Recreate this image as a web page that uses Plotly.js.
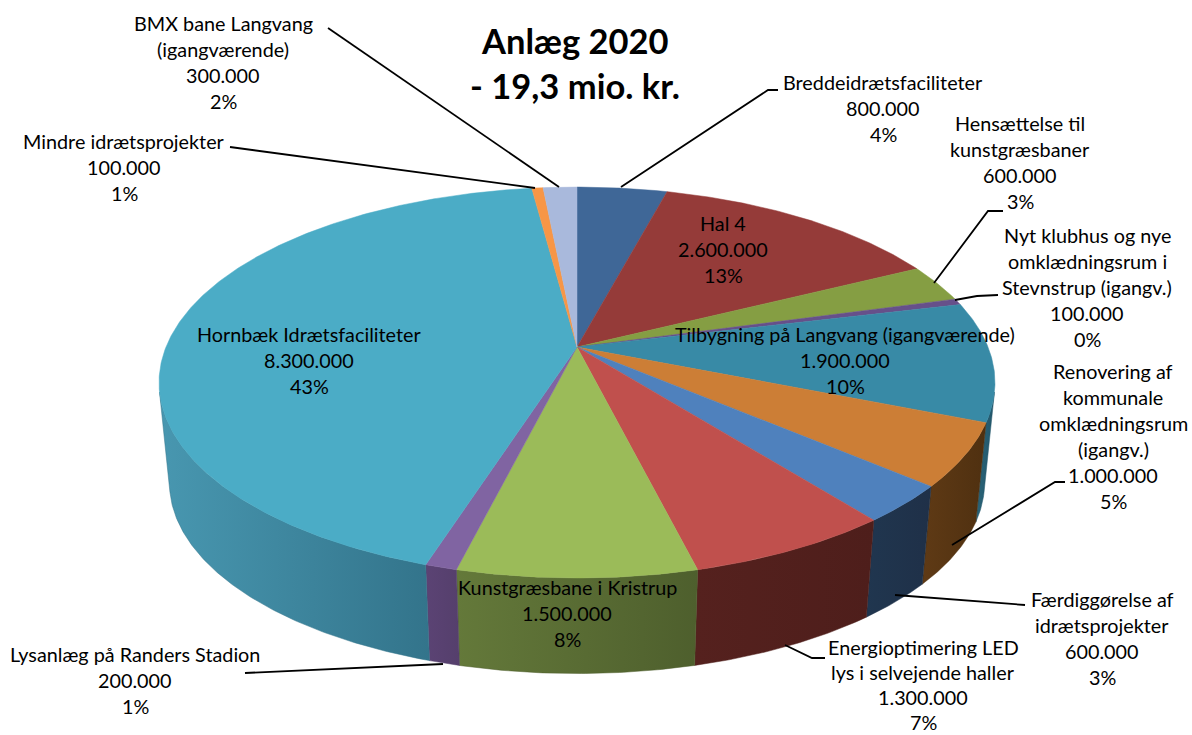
<!DOCTYPE html>
<html><head><meta charset="utf-8">
<script src="https://cdn.plot.ly/plotly-3.0.1.min.js"></script>
<style>html,body{margin:0;padding:0;background:#fff}</style></head>
<body><div id="chart" style="width:1192px;height:735px"></div>
<script>
// ---- data ----
const sliceValues = [800000,2600000,600000,100000,1900000,1000000,600000,1300000,1500000,200000,8300000,100000,300000];
const slicePercents = ['4%','13%','3%','0%','10%','5%','3%','7%','8%','1%','43%','1%','2%'];
const sliceNames = [
  ['Breddeidrætsfaciliteter'],
  ['Hal 4'],
  ['Hensættelse til','kunstgræsbaner'],
  ['Nyt klubhus og nye','omklædningsrum i','Stevnstrup (igangv.)'],
  ['Tilbygning på Langvang (igangværende)'],
  ['Renovering af','kommunale','omklædningsrum','(igangv.)'],
  ['Færdiggørelse af','idrætsprojekter'],
  ['Energioptimering LED','lys i selvejende haller'],
  ['Kunstgræsbane i Kristrup'],
  ['Lysanlæg på Randers Stadion'],
  ['Hornbæk Idrætsfaciliteter'],
  ['Mindre idrætsprojekter'],
  ['BMX bane Langvang','(igangværende)']
];
const titleLines = ['Anlæg 2020','- 19,3 mio. kr.'];
// ---- style ----
const topColors = ['#3f6797','#953b39','#859e43','#66508a','#388aa6','#cc7e36','#4f81bd','#c0504d','#9bbb59','#8064a2','#4bacc6','#f79646','#a9b9dc'];
const sideLeft  = ['#2a4a70','#6e2b2a','#5f7434','#4a3a66','#2a6478','#5f3a15','#20364f','#55211e','#64793a','#5b4374','#4897b0','#a86a30','#7d8aa8'];
const sideRight = ['#2a4a70','#6e2b2a','#5f7434','#4a3a66','#23566a','#4f3010','#1f3048','#4e1e1b','#4e5f2d','#553f6c','#33748b','#a86a30','#7d8aa8'];
const labelCenterX = [883,723,1020,1087,845,1113,1102,923,567,135,309,124,223];
const labelFirstY  = [82,223,123,235,334,371,599,647,587,654,334,141,23];
const lineSteps    = [26,26,26,26,26,26,26,25,26,26,26,26,26];
const labelFont = 19.8;
const leaders = [
  [[778,90],[768,90],[621,187]],
  [],
  [[1003,211],[988,211],[934,283]],
  [[998,295],[977,296],[955,300]],
  [],
  [[1065,482],[1055,482],[952,545]],
  [[1025,605],[895,595]],
  [[825,658],[812,658],[785,645]],
  [],
  [[245,673],[443,664]],
  [],
  [[230,147],[535,188]],
  [[328,28],[559,187]]
];
// ---- projection of the pie disc ----
const cx=577, cy=347, R=411, RK=189, P=0.1818;
const vanish={x:577,y:4400}, drop=0.025;
const sideFrom=103.2, sideTo=256.8;
function rim(deg){
  const t=deg*Math.PI/180, u=Math.sin(t), v=-Math.cos(t), w=1-P*v;
  return {x:cx+R*u/w, y:cy+RK*v/w};
}
function under(p){ return {x:p.x+drop*(vanish.x-p.x), y:p.y+drop*(vanish.y-p.y)}; }
function arc(a,b,f){ const o=[]; const n=Math.max(2,Math.ceil(Math.abs(b-a)/0.5));
  for(let i=0;i<=n;i++){ const p=rim(a+(b-a)*i/n); o.push(f?f(p):p);} return o; }
const total=sliceValues.reduce((s,v)=>s+v,0);
let acc=0; const angles=sliceValues.map(v=>{const a=acc/total*360; acc+=v; return [a,acc/total*360];});
const sideTraces=[], topTraces=[];
angles.forEach(([a,b],i)=>{
  const sa=Math.max(a,sideFrom), sb=Math.min(b,sideTo);
  if(sb>sa){
    const t=arc(sa,sb), d=arc(sb,sa,under), pts=t.concat(d);
    const xs=pts.map(p=>p.x), ys=pts.map(p=>p.y);
    xs.push(xs[0]); ys.push(ys[0]);
    sideTraces.push({type:'scatter',mode:'lines',x:xs,y:ys,fill:'toself',hoverinfo:'skip',
      line:{width:0.5,color:sideRight[i]},
      fillgradient:{type:'horizontal',start:Math.min(...xs),stop:Math.max(...xs),
        colorscale:[[0,sideLeft[i]],[1,sideRight[i]]]}});
  }
  const e=[{x:cx,y:cy}].concat(arc(a,b)); e.push({x:cx,y:cy});
  topTraces.push({type:'scatter',mode:'lines',x:e.map(p=>p.x),y:e.map(p=>p.y),fill:'toself',
    fillcolor:topColors[i],line:{width:0.5,color:topColors[i]},hoverinfo:'skip'});
});
const fmt=v=>String(v).replace(/\B(?=(\d{3})+$)/g,'.');
const anns=[];
sliceNames.forEach((names,i)=>{
  names.concat([fmt(sliceValues[i]),slicePercents[i]]).forEach((s,k)=>{
    anns.push({x:labelCenterX[i],y:labelFirstY[i]+k*lineSteps[i],xref:'x',yref:'y',text:s,showarrow:false,
      xanchor:'center',yanchor:'middle',font:{family:'Lato',size:labelFont,color:'#000'}});
  });
});
titleLines.forEach((s,k)=>anns.push({x:575,y:40+k*45,xref:'x',yref:'y',text:'<b>'+s+'</b>',showarrow:false,
  xanchor:'center',yanchor:'middle',font:{family:'Lato',size:34.5,color:'#000'}}));
const shapes=leaders.filter(l=>l.length).map(l=>({type:'path',xref:'x',yref:'y',
  path:l.map((p,i)=>(i?'L':'M')+p[0]+','+p[1]).join(' '),line:{color:'#000',width:1.8}}));
Plotly.newPlot('chart',sideTraces.concat(topTraces),{
  width:1192,height:735,margin:{l:0,r:0,t:0,b:0},showlegend:false,
  paper_bgcolor:'#fff',plot_bgcolor:'#fff',hovermode:false,
  xaxis:{range:[0,1192],visible:false,fixedrange:true},
  yaxis:{range:[735,0],visible:false,fixedrange:true},
  annotations:anns,shapes:shapes
},{displayModeBar:false,staticPlot:true});
</script></body></html>
